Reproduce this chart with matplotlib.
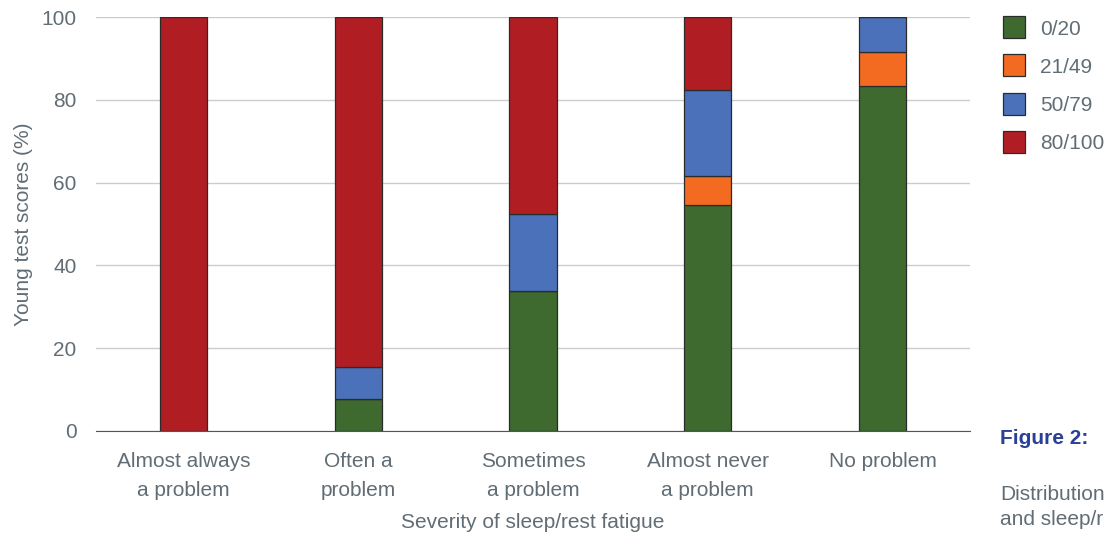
import numpy as np
import matplotlib.pyplot as plt
from matplotlib.patches import Rectangle

plt.rcParams['font.family'] = ['Liberation Sans', 'DejaVu Sans']

# Categories and stacked series (percent of patients per score band)
categories = ['Almost always\na problem', 'Often a\nproblem', 'Sometimes\na problem',
              'Almost never\na problem', 'No problem']
band_labels = ['0/20', '21/49', '50/79', '80/100']
score_0_20 = [0, 7.7, 33.8, 54.6, 83.4]
score_21_49 = [0, 0, 0, 7.0, 8.1]
score_50_79 = [0, 7.8, 18.6, 20.8, 8.5]
score_80_100 = [100, 84.5, 47.6, 17.6, 0]
band_colors = ['#3e6a2f', '#f36a21', '#4a71b9', '#b01e24']

text_grey = '#616d75'
fs = 15

fig = plt.figure(figsize=(11.06, 5.35), dpi=100)
ax = fig.add_axes([0.0868, 0.1944, 0.7902, 0.7738])

x = np.arange(len(categories))
bottom = np.zeros(len(categories))
series = [score_0_20, score_21_49, score_50_79, score_80_100]
for vals, col, lab in zip(series, band_colors, band_labels):
    vals = np.array(vals)
    ax.bar(x, vals, width=0.27, bottom=bottom, color=col, edgecolor='#2b2b2b',
           linewidth=0.9, label=lab, zorder=3)
    bottom += vals

ax.set_xlim(-0.5, 4.5)
ax.set_ylim(0, 100)
ax.set_yticks([0, 20, 40, 60, 80, 100])
ax.grid(axis='y', color='#cccccc', linewidth=1, zorder=0)
for s in ['top', 'right', 'left']:
    ax.spines[s].set_visible(False)
ax.spines['bottom'].set_color('#555555')
ax.spines['bottom'].set_zorder(4)
ax.tick_params(axis='both', length=0, labelsize=fs, colors=text_grey)
ax.tick_params(axis='y', pad=14)
ax.tick_params(axis='x', pad=15)
ax.set_xticks(x)
ax.set_xticklabels(categories, linespacing=1.65)
ax.set_ylabel('Young test scores (%)', fontsize=fs, color=text_grey, labelpad=6)
ax.set_xlabel('Severity of sleep/rest fatigue', fontsize=fs, color=text_grey, labelpad=10)

# legend drawn by hand to keep the wide row spacing
for i, (col, lab) in enumerate(zip(band_colors, band_labels)):
    yc = 1 - (27 + 38.3 * i) / 535
    fig.patches.append(Rectangle((1003 / 1106, yc - 11 / 535), 22 / 1106, 22 / 535,
                                 transform=fig.transFigure, facecolor=col,
                                 edgecolor='#2b2b2b', linewidth=0.9))
    fig.text(1040 / 1106, yc - 2 / 535, lab, fontsize=fs, color=text_grey,
             va='center', ha='left')

fig.text(1000 / 1106, 1 - 439 / 535, 'Figure 2:', fontsize=fs, fontweight='bold',
         color='#2a3f98', va='center', ha='left')
fig.text(1000 / 1106, 1 - 507 / 535, 'Distribution\nand sleep/r',
         fontsize=fs, color=text_grey, va='center', ha='left', linespacing=1.45)

fig.savefig('out.png', dpi=100)
